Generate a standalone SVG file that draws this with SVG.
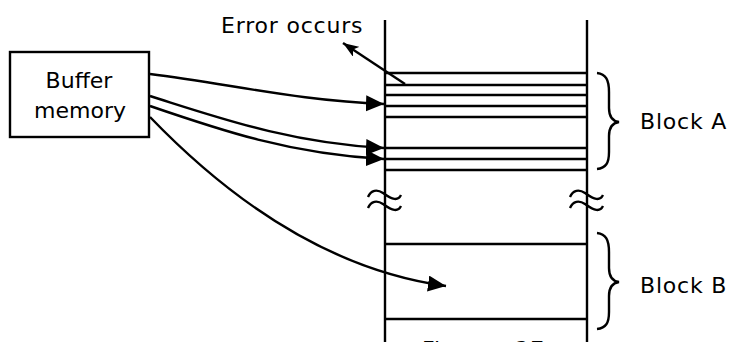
<svg xmlns="http://www.w3.org/2000/svg" width="737" height="342" viewBox="0 0 737 342">
<style>
.ln{stroke:#000;stroke-width:2.4;fill:none}
.cn{stroke:#000;stroke-width:2.4;fill:none}
.tx{font-family:"DejaVu Sans",Verdana,sans-serif;font-size:22px;fill:#000}
</style>
<defs>
<marker id="ah" markerUnits="userSpaceOnUse" markerWidth="20" markerHeight="18" refX="18" refY="8" orient="auto">
<path d="M0,0 L18,8 L0,16 Z" fill="#000"/>
</marker>
<marker id="ahs" markerUnits="userSpaceOnUse" markerWidth="18" markerHeight="12" refX="16" refY="6" orient="auto">
<path d="M0,0 L16,6 L0,12 L4,6 Z" fill="#000"/>
</marker>
</defs>
<rect width="737" height="342" fill="#fff"/>
<g id="memory-column">
<line class="ln" x1="385" y1="20" x2="385" y2="342"/>
<line class="ln" x1="587" y1="20" x2="587" y2="342"/>
<line class="ln" x1="385" y1="73" x2="587" y2="73"/>
<line class="ln" x1="385" y1="85" x2="587" y2="85"/>
<line class="ln" x1="385" y1="95" x2="587" y2="95"/>
<line class="ln" x1="385" y1="106" x2="587" y2="106"/>
<line class="ln" x1="385" y1="117" x2="587" y2="117"/>
<line class="ln" x1="385" y1="148" x2="587" y2="148"/>
<line class="ln" x1="385" y1="159" x2="587" y2="159"/>
<line class="ln" x1="385" y1="170" x2="587" y2="170"/>
<line class="ln" x1="385" y1="244" x2="587" y2="244"/>
<line class="ln" x1="385" y1="319" x2="587" y2="319"/>
<path class="ln" d="M368,197 C371,190 377,189 383,193 S397,203 401,195"/>
<path class="ln" d="M368,208 C371,201 377,200 383,204 S397,214 401,206"/>
<path class="ln" d="M570,197 C573,190 579,189 585,193 S599,203 603,195"/>
<path class="ln" d="M570,208 C573,201 579,200 585,204 S599,214 603,206"/>
</g>
<g id="buffer-memory">
<rect x="10" y="52" width="139" height="85" fill="#fff" stroke="#000" stroke-width="2.4"/>
<text class="tx" x="79" y="88" text-anchor="middle">Buffer</text>
<text class="tx" x="80" y="118" text-anchor="middle">memory</text>
</g>
<g id="error-label">
<text class="tx" x="221" y="33" letter-spacing="0.8">Error occurs</text>
</g>
<g id="block-a">
<path class="ln" d="M597,73 C606,74 609,80 609,92 L609,108 C609,116 612,121 619,122 C612,123 609,128 609,136 L609,152 C609,163 606,168 597,169"/>
<text class="tx" x="640" y="129" letter-spacing="0.8">Block A</text>
</g>
<g id="block-b">
<path class="ln" d="M597,233 C606,234 609,240 609,252 L609,268 C609,276 612,281 619,282 C612,283 609,288 609,296 L609,312 C609,323 606,328 597,329"/>
<text class="tx" x="640" y="293" letter-spacing="0.8">Block B</text>
</g>
<g id="caption">
<text class="tx" x="422" y="357" letter-spacing="1" word-spacing="12">Figure 27</text>
</g>
<g id="connectors">
<path class="cn" d="M150,74 C230,84 300,101 384,104" marker-end="url(#ah)"/>
<path class="cn" d="M150,96 C220,118 290,143 384,148" marker-end="url(#ah)"/>
<path class="cn" d="M150,106 C220,130 290,154 384,159" marker-end="url(#ah)"/>
<path class="cn" d="M150,117 C230,200 330,270 446,286" marker-end="url(#ah)"/>
<line class="cn" x1="405" y1="84" x2="343" y2="43" marker-end="url(#ahs)"/>
</g>
</svg>
